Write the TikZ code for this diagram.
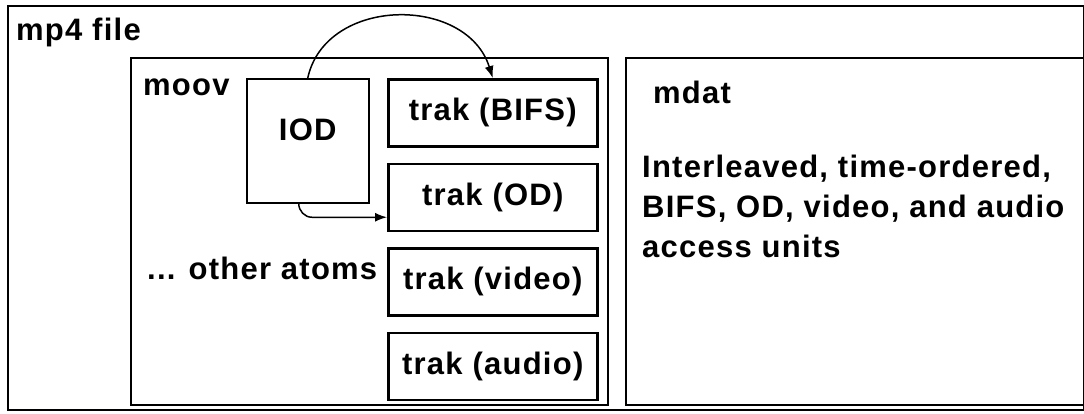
\documentclass[tikz,border=0pt]{standalone}
\usepackage{fontspec}
\setmainfont{Liberation Sans}[LetterSpace=4]
\usetikzlibrary{arrows.meta,positioning}

\begin{document}
\begin{tikzpicture}[
  x=1pt, y=-1pt,
  every node/.style={font=\fontsize{31}{40}\selectfont\bfseries},
  atom/.style={draw, line width=2pt, anchor=north west, inner sep=0pt},
  trakbox/.style={draw, line width=2.5pt, minimum width=209pt, minimum height=67pt, inner sep=0pt},
  lbl/.style={anchor=base west, inner sep=0pt},
  link/.style={-{Latex[length=12pt,width=9pt]}, line width=1.5pt}
]
\useasboundingbox (0,0) rectangle (1084,413);

% the file and its two top-level atoms
\node[atom, minimum width=1076pt, minimum height=404pt] (file) at (7,5) {};
\node[atom, minimum width=477pt, minimum height=347pt] (moov) at (130,57) {};
\node[atom, minimum width=459pt, minimum height=347pt, anchor=west, right=16pt of moov] (mdat) {};

\node[lbl] at (16,40) {mp4 file};
\node[lbl] at (143,95) {moov};
\node[lbl] at (147,279) {... other atoms};

% initial object descriptor
\node[atom, line width=1.5pt, minimum width=122pt, minimum height=124pt] (iod) at (246,78) {};
\node at ([yshift=-52pt]iod.north) {IOD};

% tracks
\node[trakbox, anchor=north west] (bifs) at (387,78) {trak (BIFS)};
\node[trakbox, below=15pt of bifs] (od) {trak (OD)};
\node[trakbox, below=15pt of od] (video) {trak (video)};
\node[trakbox, below=15pt of video] (audio) {trak (audio)};

% media data
\node[lbl] at (653,103) {mdat};
\node[lbl] at (642,177) {Interleaved, time-ordered,};
\node[lbl] at (642,217) {BIFS, OD, video, and audio};
\node[lbl] at (642,257) {access units};

% references from the IOD
\draw[link] (iod.north) .. controls +(18,-82) and +(-26,-83) .. (bifs.north);
\draw[link] ([xshift=-9pt]iod.south) to[out=-90, in=180] ([xshift=-75pt, yshift=-20pt]od.west) -- ([yshift=-20pt]od.west);
\end{tikzpicture}
\end{document}
